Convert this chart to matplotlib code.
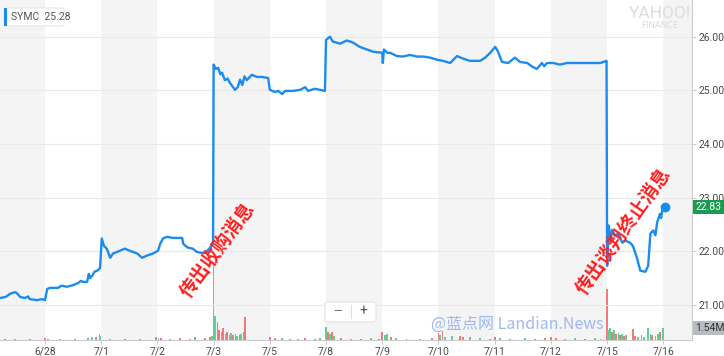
import matplotlib
matplotlib.use("Agg")
import matplotlib.pyplot as plt
from matplotlib.patches import FancyBboxPatch, Rectangle
from matplotlib.lines import Line2D

plt.rcParams['font.family'] = ['Roboto', 'Noto Sans CJK SC', 'DejaVu Sans']

# trading days on the x axis (position = index)
day_labels = ['6/28', '7/1', '7/2', '7/3', '7/5', '7/8', '7/9', '7/10', '7/11', '7/12', '7/15', '7/16']

# price line (x in days from 6/28)
price_x = [-0.80, -0.70, -0.62, -0.53, -0.50, -0.44, -0.36, -0.30, -0.27, -0.14, -0.05,
           0.00, 0.04, 0.09, 0.23, 0.30, 0.39, 0.50, 0.59, 0.64, 0.68, 0.75, 0.78, 0.80, 0.85, 0.88, 0.93, 0.98,
           1.01, 1.05, 1.10, 1.16, 1.21, 1.33, 1.42, 1.51, 1.64, 1.73, 1.81, 1.92,
           2.01, 2.05, 2.10, 2.17, 2.28, 2.44, 2.46, 2.54, 2.63, 2.70, 2.79, 2.85, 2.94, 2.99,
           3.00, 3.04, 3.08, 3.12, 3.15, 3.20, 3.25, 3.29, 3.38, 3.43, 3.47, 3.51, 3.55, 3.59, 3.68, 3.77, 3.86, 3.97,
           4.00, 4.09, 4.15, 4.22, 4.27, 4.41, 4.54, 4.63, 4.68, 4.80, 4.98,
           5.00, 5.07, 5.12, 5.25, 5.37, 5.48, 5.60, 5.73, 5.84,
           6.00, 6.01, 6.03, 6.09, 6.14, 6.26, 6.37, 6.49, 6.62, 6.73, 6.85, 6.98,
           7.08, 7.21, 7.33, 7.44, 7.56, 7.62, 7.74, 7.83, 7.92,
           8.01, 8.06, 8.13, 8.24, 8.36, 8.45, 8.58, 8.67, 8.75, 8.84, 8.88, 8.93,
           9.04, 9.16, 9.29, 9.40, 9.52, 9.64, 9.75, 9.88, 9.99,
           10.00, 10.03, 10.06, 10.09, 10.14, 10.20, 10.27, 10.32, 10.41, 10.46, 10.53, 10.59, 10.68,
           10.73, 10.77, 10.82, 10.86, 10.89, 10.94, 10.96, 10.98, 11.03]
price_y = [21.13, 21.15, 21.21, 21.24, 21.22, 21.15, 21.13, 21.16, 21.11, 21.09, 21.11,
           21.09, 21.30, 21.32, 21.32, 21.36, 21.34, 21.37, 21.41, 21.45, 21.43, 21.43, 21.58, 21.50, 21.56, 21.62, 21.64, 21.69,
           22.24, 22.10, 22.05, 21.88, 21.96, 22.01, 22.05, 22.01, 21.96, 21.88, 21.92, 21.96,
           22.01, 22.14, 22.24, 22.27, 22.25, 22.25, 22.14, 22.07, 22.05, 21.99, 21.97, 21.97, 22.07, 22.14,
           25.48, 25.40, 25.42, 25.30, 25.33, 25.19, 25.22, 25.14, 25.01, 25.06, 25.20, 25.10, 25.26, 25.19, 25.29, 25.25, 25.25, 25.23,
           25.01, 24.97, 24.99, 24.93, 24.99, 24.99, 25.01, 25.06, 24.99, 25.03, 24.99,
           25.94, 26.00, 25.91, 25.87, 25.93, 25.89, 25.81, 25.76, 25.72,
           25.70, 25.51, 25.76, 25.70, 25.70, 25.64, 25.63, 25.66, 25.63, 25.63, 25.61, 25.57,
           25.55, 25.51, 25.64, 25.59, 25.55, 25.55, 25.55, 25.61, 25.70,
           25.81, 25.72, 25.53, 25.51, 25.61, 25.53, 25.51, 25.44, 25.40, 25.51, 25.45, 25.51,
           25.51, 25.48, 25.51, 25.51, 25.51, 25.51, 25.51, 25.51, 25.55,
           21.73, 22.48, 22.20, 22.40, 22.29, 22.33, 22.16, 22.20, 22.16, 22.10, 21.88, 21.64, 21.62,
           21.73, 22.33, 22.39, 22.30, 22.54, 22.70, 22.62, 22.76, 22.83]

# volume bars (millions), up = green
vol_x = [-0.71, -0.53, -0.27, 0.00, 0.05, 0.27, 0.53, 0.77, 0.84, 0.91, 0.97, 0.99,
         1.16, 1.42, 1.69, 1.97, 2.02, 2.07,
         2.22, 2.40, 2.58, 2.67, 2.85, 2.94, 2.97,
         3.00, 3.03, 3.07, 3.10, 3.14, 3.17, 3.21, 3.24, 3.28, 3.31, 3.35, 3.39, 3.42, 3.46, 3.49, 3.53, 3.56,
         4.00, 4.09, 4.22, 4.36, 4.50, 4.63, 4.80, 4.89,
         5.00, 5.04, 5.07, 5.11, 5.14, 5.27, 5.44, 5.62, 5.80, 5.94,
         6.00, 6.05, 6.09, 6.16, 6.25, 6.43, 6.67, 6.89,
         7.00, 7.03, 7.07, 7.12, 7.24, 7.38, 7.44, 7.56, 7.74, 7.92,
         8.01, 8.10, 8.27, 8.54, 8.72, 8.90,
         9.00, 9.09, 9.25, 9.43, 9.61, 9.79, 9.88,
         10.00, 10.02, 10.05, 10.09, 10.12, 10.16, 10.20, 10.23, 10.27, 10.30, 10.34,
         10.46, 10.50, 10.55, 10.61, 10.66, 10.73, 10.77, 10.80, 10.86, 10.91, 10.94, 11.00]
vol_m = [0.13, 0.13, 0.13, 0.25, 0.13, 0.13, 0.13, 0.25, 0.4, 0.4, 0.77, 0.5,
         0.13, 0.13, 0.13, 0.4, 0.25, 0.25,
         0.13, 0.25, 0.13, 0.4, 0.25, 0.4, 0.5,
         10.0, 3.1, 2.3, 1.3, 1.0, 1.5, 0.8, 1.0, 0.6, 0.9, 0.6, 0.8, 0.5, 0.6, 0.8, 1.0, 2.9,
         0.4, 0.25, 0.25, 0.13, 0.13, 0.25, 0.13, 0.25,
         1.7, 1.0, 0.8, 1.0, 0.5, 0.25, 0.13, 0.13, 0.25, 0.13,
         1.0, 0.64, 0.77, 0.4, 0.25, 0.13, 0.13, 0.25,
         0.9, 0.64, 1.15, 0.4, 0.5, 0.5, 0.4, 0.4, 0.25, 0.13,
         0.4, 0.25, 0.13, 0.25, 0.13, 0.25,
         0.4, 0.25, 0.13, 0.25, 0.13, 0.25, 0.13,
         6.5, 1.3, 1.5, 1.0, 1.3, 0.8, 0.9, 0.64, 0.77, 0.5, 0.64,
         1.4, 0.5, 0.4, 0.64, 0.4, 1.5, 0.77, 0.64, 0.5, 0.77, 1.0, 1.54]
vol_up = [0, 1, 0, 0, 1, 1, 0, 1, 1, 0, 1, 1,
          1, 0, 1, 0, 1, 0,
          1, 0, 1, 1, 0, 0, 1,
          1, 1, 0, 0, 1, 0, 1, 0, 1, 1, 0, 0, 1, 0, 1, 0, 0,
          0, 0, 1, 0, 1, 0, 1, 1,
          1, 0, 1, 0, 1, 0, 1, 0, 1, 0,
          0, 1, 1, 0, 1, 0, 1, 0,
          0, 1, 0, 1, 1, 0, 0, 1, 1, 0,
          0, 1, 0, 1, 1, 0,
          0, 0, 1, 1, 0, 1, 0,
          0, 1, 1, 0, 1, 0, 1, 0, 1, 0, 1,
          0, 0, 1, 0, 1, 1, 1, 0, 1, 1, 0, 1]

W, H = 724, 356
fig = plt.figure(figsize=(W / 100, H / 100), dpi=100)

def fx(px):
    return px / W

def fy(py):
    return 1 - py / H

vax = fig.add_axes([0, fy(340), fx(692), 340 / H])
ax = vax.twinx()
ax.set_zorder(vax.get_zorder() + 1)
ax.patch.set_visible(False)

xmin, xmax = -0.80, 11.51
vax.set_xlim(xmin, xmax)

# alternating day bands
for i in range(-1, len(day_labels)):
    if i % 2 != 0:
        vax.axvspan(max(i, xmin), min(i + 1, xmax), color='#f4f4f4', lw=0, zorder=0)

bar_cols = ['#5fcf94' if u else '#f07a7a' for u in vol_up]
vax.bar(vol_x, vol_m, width=0.03, color=bar_cols, lw=0, zorder=2)
vax.set_ylim(0, 43.6)
vax.set_yticks([])
for s in vax.spines.values():
    s.set_visible(False)

# price
ax.set_xlim(xmin, xmax)
ax.set_ylim(20.348, 26.684)
ax.plot(price_x, price_y, color='#1a8cf0', lw=1.7, zorder=3, solid_joinstyle='round')
ax.plot(price_x[-1], price_y[-1], 'o', color='#1a8cf0', ms=6, zorder=4)

yt = [21, 22, 23, 24, 25, 26]
ax.set_yticks(yt)
ax.set_yticklabels(['%.2f' % v for v in yt])
ax.grid(axis='y', color='#e9e9e9', lw=0.8)
ax.tick_params(axis='y', right=True, left=False, labelright=True, labelleft=False,
               length=3, color='#cccccc', labelsize=7.5, labelcolor='#4a4a4a', pad=2)
vax.set_xticks(range(len(day_labels)))
vax.set_xticklabels(day_labels)
vax.tick_params(axis='x', length=3, color='#cccccc', labelsize=7.5, labelcolor='#4a4a4a', pad=2)
ax.tick_params(axis='x', bottom=False, labelbottom=False)
for k in ['top', 'left']:
    ax.spines[k].set_visible(False)
ax.spines['right'].set_color('#cccccc')
ax.spines['bottom'].set_color('#cccccc')

# last price / volume tags
ax.annotate('%.2f' % price_y[-1], xy=(1, price_y[-1]), xycoords=('axes fraction', 'data'),
            xytext=(2.5, 0), textcoords='offset points', ha='left', va='center',
            fontsize=7.5, color='white', annotation_clip=False, zorder=10,
            bbox=dict(boxstyle='square,pad=0.2', fc='#1a9c50', ec='none'))
vax.annotate('%.2fM' % vol_m[-1], xy=(1, vol_m[-1]), xycoords=('axes fraction', 'data'),
             xytext=(2.5, 0), textcoords='offset points', ha='left', va='center',
             fontsize=7.5, color='#333333', annotation_clip=False,
             bbox=dict(boxstyle='square,pad=0.2', fc='#b9bcc1', ec='none'))

# ticker box
fig.patches.append(FancyBboxPatch((fx(4), fy(26)), fx(60), 18 / H, transform=fig.transFigure,
                                  boxstyle='round,pad=0,rounding_size=0.004',
                                  fc='white', ec='#e6e6e6', lw=0.8, zorder=5))
fig.patches.append(Rectangle((fx(4), fy(26)), fx(3), 18 / H, transform=fig.transFigure,
                             fc='#1a8cf0', ec='none', zorder=6))
fig.text(fx(11), fy(17), 'SYMC  25.28', fontsize=7.5, color='#555555', va='center', zorder=7)

# yahoo logo
fig.text(fx(660), fy(13), 'YAHOO!', fontsize=12.5, color='#dcdcdc', ha='center', va='center')
fig.text(fx(660), fy(26), 'FINANCE', fontsize=6.5, color='#dcdcdc', ha='center', va='center')

# zoom buttons
fig.patches.append(FancyBboxPatch((fx(325), fy(322)), fx(51), 20 / H, transform=fig.transFigure,
                                  boxstyle='round,pad=0,rounding_size=0.005',
                                  fc='white', ec='#e3e3e3', lw=0.8, zorder=5))
fig.text(fx(338), fy(311), '\u2014', fontsize=8, color='#555555', ha='center', va='center', zorder=6)
fig.text(fx(363), fy(311), '+', fontsize=10, color='#555555', ha='center', va='center', zorder=6)
fig.lines.append(Line2D([fx(351), fx(351)], [fy(305), fy(318)], transform=fig.transFigure,
                        color='#dddddd', lw=0.8, zorder=6))

# annotations
cjk = ['Noto Sans CJK SC', 'DejaVu Sans']
fig.text(fx(218), fy(250), '传出收购消息', family=cjk, fontsize=13.5, fontweight='bold',
         color='#ff1f1f', rotation=54, ha='center', va='center', zorder=8)
fig.text(fx(623), fy(231), '传出谈判终止消息', family=cjk, fontsize=13.5, fontweight='bold',
         color='#ff1f1f', rotation=55, ha='center', va='center', zorder=8)
fig.text(fx(517), fy(324), '@蓝点网 Landian.News', family=cjk, fontsize=11.5, color='#9db9f3',
         ha='center', va='center', zorder=8)

fig.savefig('out.png', dpi=100)
